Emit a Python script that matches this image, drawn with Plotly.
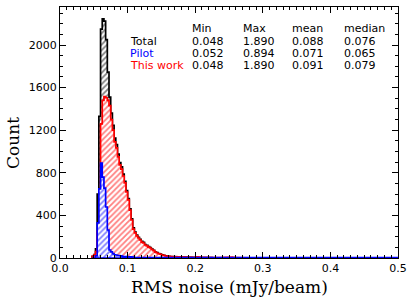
import plotly.graph_objects as go

# ---------------- data ----------------
bin_start = 0.0475
bin_width = 0.0025

total_counts = [15, 32, 85, 600, 1330, 2150, 2245, 2225, 2050, 1745,
                1510, 1360, 1245, 1125, 1065, 975, 897, 855, 787, 720,
                634, 557, 462, 367, 282, 243, 215, 195, 175, 156,
                146, 127, 118, 107, 97, 83, 73, 58, 50, 42,
                37, 30, 26, 21, 19, 16, 14, 13, 12, 11,
                10, 10, 9, 9, 8, 8, 9, 7, 7, 6,
                7, 10, 12, 9, 7, 6, 6, 5, 5, 6,
                5, 4, 5, 4, 4, 5, 4, 4, 3, 4,
                5, 7, 9, 6, 4, 3, 3, 4, 3, 3,
                2, 3, 2, 2, 3, 2, 2, 2, 3, 2, 2]

pilot_counts = [0, 2, 20, 330, 650, 890, 760, 657, 479, 263,
                75, 58, 42, 32, 27, 24, 20, 18, 15, 13,
                12, 11, 10, 9, 8, 7, 7, 6, 5, 5,
                4, 4, 4, 3, 3, 3, 2, 2, 2, 2,
                2, 1, 1, 1, 1, 1, 1, 1, 1, 1,
                1, 1, 1, 1, 1, 1, 1, 1, 1, 1,
                1, 1, 1, 1, 1, 1, 1, 1, 1, 1,
                1, 1, 1, 1, 1, 1, 1, 1, 1, 1,
                1, 1, 1, 1, 1, 1, 1, 1, 1, 1,
                1, 1, 1, 1, 1, 1, 1, 1, 1, 1, 1]

thiswork_counts = [15, 30, 60, 250, 650, 1260, 1480, 1515, 1505, 1480,
                   1430, 1300, 1200, 1090, 1035, 950, 875, 835, 770, 705,
                   620, 545, 450, 357, 272, 235, 207, 188, 169, 150,
                   141, 122, 113, 103, 94, 80, 70, 56, 47, 40,
                   35, 28, 24, 19, 17, 15, 13, 12, 11, 10,
                   9, 9, 8, 8, 7, 7, 8, 6, 6, 5,
                   6, 9, 11, 8, 6, 5, 5, 4, 4, 5,
                   4, 3, 4, 3, 3, 4, 3, 3, 2, 3,
                   4, 6, 8, 5, 3, 2, 2, 3, 2, 2,
                   1, 2, 1, 1, 2, 1, 1, 1, 2, 1, 1]

tail_counts = [1, 1, 1]          # sparse tail beyond 0.30 up to each max

series_names = ["Total", "Pilot", "This work"]
series_colors = ["black", "blue", "red"]
stat_min = [0.048, 0.052, 0.048]
stat_max = [1.890, 0.894, 1.890]
stat_mean = [0.088, 0.071, 0.091]
stat_median = [0.076, 0.065, 0.079]
stat_headers = ["Min", "Max", "mean", "median"]


def step_polygon(counts, tail, xmax):
    edges = [bin_start + i * bin_width for i in range(len(counts) + 1)] + [xmax]
    vals = list(counts) + [tail]
    xs = [edges[0]]
    ys = [0]
    for i, v in enumerate(vals):
        xs += [edges[i], edges[i + 1]]
        ys += [v, v]
    xs += [edges[-1], edges[0]]
    ys += [0, 0]
    return xs, ys


fig = go.Figure()
all_counts = [total_counts, pilot_counts, thiswork_counts]
draw_order = [0, 2, 1]   # total behind, this work, pilot on top
for idx in draw_order:
    xs, ys = step_polygon(all_counts[idx], tail_counts[idx], stat_max[idx])
    c = series_colors[idx]
    fig.add_trace(go.Scatter(
        x=xs, y=ys, mode="lines", fill="toself", fillcolor="white",
        fillpattern=dict(shape="/", fgcolor=c, bgcolor="white", size=4, solidity=0.45),
        line=dict(color=c, width=1.7), hoverinfo="skip", name=series_names[idx]))

# ---------------- text ----------------
L, R, T, B = 60, 398, 7, 258
W, H = R - L, B - T


def px(xp):
    return (xp - L) / W


def py(yp):
    return (B - yp) / H


col_x = [189.5, 240.5, 290, 342]
name_x = 128
header_y = 28
row_y = [41.5, 53.5, 65.5]
tfont = "DejaVu Sans"
ann = []
for j, h in enumerate(stat_headers):
    ann.append(dict(x=px(col_x[j]), y=py(header_y), text=h, showarrow=False,
                    xref="paper", yref="paper", xanchor="left", yanchor="middle",
                    font=dict(family=tfont, size=11, color="black")))
for i, nm in enumerate(series_names):
    ann.append(dict(x=px(name_x), y=py(row_y[i]), text=nm, showarrow=False,
                    xref="paper", yref="paper", xanchor="left", yanchor="middle",
                    font=dict(family=tfont, size=11, color=series_colors[i])))
    for j, v in enumerate([stat_min[i], stat_max[i], stat_mean[i], stat_median[i]]):
        ann.append(dict(x=px(col_x[j]), y=py(row_y[i]), text="%.3f" % v, showarrow=False,
                        xref="paper", yref="paper", xanchor="left", yanchor="middle",
                        font=dict(family=tfont, size=11, color="black")))

# axis titles as annotations for exact placement
ann.append(dict(x=px(229), y=py(287), text="RMS noise (mJy/beam)", showarrow=False,
                xref="paper", yref="paper", xanchor="center", yanchor="middle",
                font=dict(family="DejaVu Serif", size=17, color="black")))
ann.append(dict(x=px(13), y=py(143), text="Count", showarrow=False, textangle=-90,
                xref="paper", yref="paper", xanchor="center", yanchor="middle",
                font=dict(family="DejaVu Serif", size=17, color="black")))

axis_common = dict(
    ticks="inside", ticklen=6, tickwidth=1, tickcolor="black",
    mirror="allticks", showline=True, linecolor="black", linewidth=1,
    showgrid=False, zeroline=False, automargin=False,
    tickfont=dict(family="DejaVu Sans", size=11, color="black"),
)

fig.update_layout(
    width=415, height=302,
    margin=dict(l=L, r=415 - R, t=T, b=302 - B),
    plot_bgcolor="white", paper_bgcolor="white",
    showlegend=False,
    annotations=ann,
    xaxis=dict(range=[0, 0.5], dtick=0.1, tick0=0, tickformat=".1f",
               minor=dict(dtick=0.01, ticks="inside", ticklen=3, tickcolor="black", showgrid=False),
               **axis_common),
    yaxis=dict(range=[0, 2357], dtick=400, tick0=0,
               minor=dict(dtick=100, ticks="inside", ticklen=3, tickcolor="black", showgrid=False),
               **axis_common),
)

fig.write_html("out.html",
               config={"displayModeBar": False},
               post_script="document.body.style.margin='0';document.body.style.padding='0';")
